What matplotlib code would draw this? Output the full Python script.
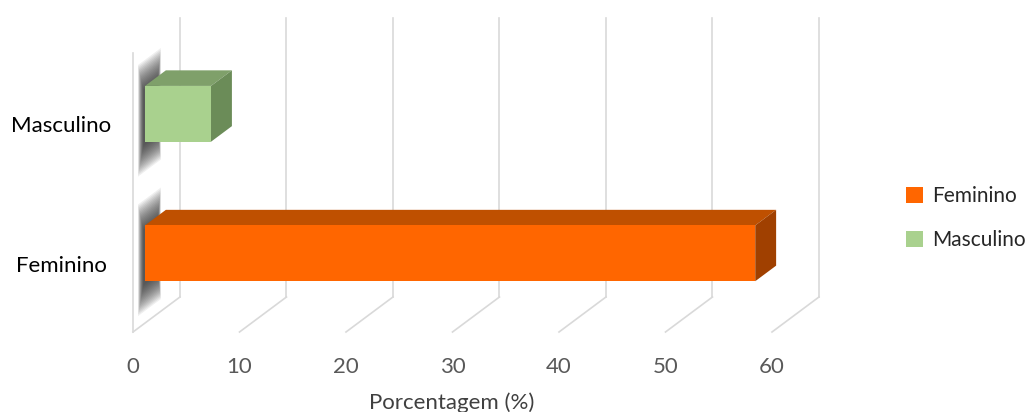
import matplotlib
matplotlib.use("Agg")
import matplotlib.pyplot as plt
from matplotlib.patches import Polygon, Patch

plt.rcParams['font.family'] = ['Lato', 'DejaVu Sans']

# datos
categorias = ["Feminino", "Masculino"]
valores = [57.3, 6.2]
cores_frente = ["#FF6600", "#A9D18E"]
cores_topo = ["#BF5000", "#7FA06A"]
cores_lado = ["#A04000", "#6B8C58"]
ticks = [0, 10, 20, 30, 40, 50, 60]
titulo_x = "Porcentagem (%)"

# projecao obliqua estilo Excel: (valor, categoria, profundidade) -> (x, y)
DX, DY = 4.41, 0.251
D0, D1 = 0.255, 0.70
MEIA_ALT = 0.2


def proj(v, c, d):
    return (v + d * DX, c + d * DY)


fig = plt.figure(figsize=(10.29, 4.12), dpi=100)
ax = fig.add_axes([133 / 1029, 80 / 412, 639 / 1029, 279 / 412])
ax.set_xlim(ticks[0], ticks[-1])
ax.set_ylim(-0.5, len(categorias) - 0.5)
ax.axis("off")

grid_cor = "#D9D9D9"
y0, y1 = -0.5, len(categorias) - 0.5
for t in ticks:
    # linha no fundo + diagonal no piso
    xs, ys = zip(proj(t, y0, 1), proj(t, y1, 1))
    ax.plot(xs, ys, color=grid_cor, lw=1.2, clip_on=False, zorder=1)
    xs, ys = zip(proj(t, y0, 0), proj(t, y0, 1))
    ax.plot(xs, ys, color=grid_cor, lw=1.2, clip_on=False, zorder=1)
    tx, ty = proj(t, y0 - 0.25, 0)
    ax.text(tx, ty, str(t), ha="center", va="center", fontsize=16, color="#595959")
# aresta frontal da parede esquerda
xs, ys = zip(proj(0, y0, 0), proj(0, y1, 0))
ax.plot(xs, ys, color=grid_cor, lw=1.2, clip_on=False, zorder=1)

tx, ty = proj((ticks[0] + ticks[-1]) / 2, y0 - 0.51, 0)
ax.text(tx - 0.1, ty, titulo_x, ha="center", va="center", fontsize=16, color="#404040")

for i, (cat, v) in enumerate(zip(categorias, valores)):
    lo, hi = i - MEIA_ALT, i + MEIA_ALT
    # sombra difusa na parede esquerda (camadas sobrepostas)
    n = 18
    for k in range(n):
        f = k / (n - 1)
        ext = 0.2 * (1 - f)
        x0 = -0.3 + 0.15 * f
        da = D0 - 0.08 + 0.08 * f
        db = D1 - 0.04 - 0.1 * f
        sh = [proj(x0, lo - ext - 0.03, da), proj(x0, hi + ext - 0.03, da),
              proj(x0, hi + ext - 0.03, db), proj(x0, lo - ext - 0.03, db)]
        ax.add_patch(Polygon(sh, closed=True, fc="#222222", ec="none", alpha=0.07,
                             clip_on=False, zorder=2))
    frente = [proj(0, lo, D0), proj(v, lo, D0), proj(v, hi, D0), proj(0, hi, D0)]
    topo = [proj(0, hi, D0), proj(v, hi, D0), proj(v, hi, D1), proj(0, hi, D1)]
    lado = [proj(v, lo, D0), proj(v, lo, D1), proj(v, hi, D1), proj(v, hi, D0)]
    ax.add_patch(Polygon(topo, closed=True, fc=cores_topo[i], ec="none", clip_on=False, zorder=3))
    ax.add_patch(Polygon(lado, closed=True, fc=cores_lado[i], ec="none", clip_on=False, zorder=3))
    ax.add_patch(Polygon(frente, closed=True, fc=cores_frente[i], ec="none", clip_on=False, zorder=3))
    lx, ly = proj(-6.76, i - 0.025, 0)
    ax.text(lx, ly, cat, ha="center", va="center", fontsize=16, color="#000000")

handles = [Patch(fc=c, ec="none", label=cat) for c, cat in zip(cores_frente, categorias)]
fig.legend(handles=handles, loc="center left", bbox_to_anchor=(906 / 1029, 1 - 218 / 412),
           frameon=False, fontsize=15, handlelength=0.8, handleheight=0.8, handletextpad=0.45,
           labelspacing=1.15, labelcolor="#262626", borderpad=0, borderaxespad=0)

fig.savefig("out.png", dpi=100, facecolor="white")
